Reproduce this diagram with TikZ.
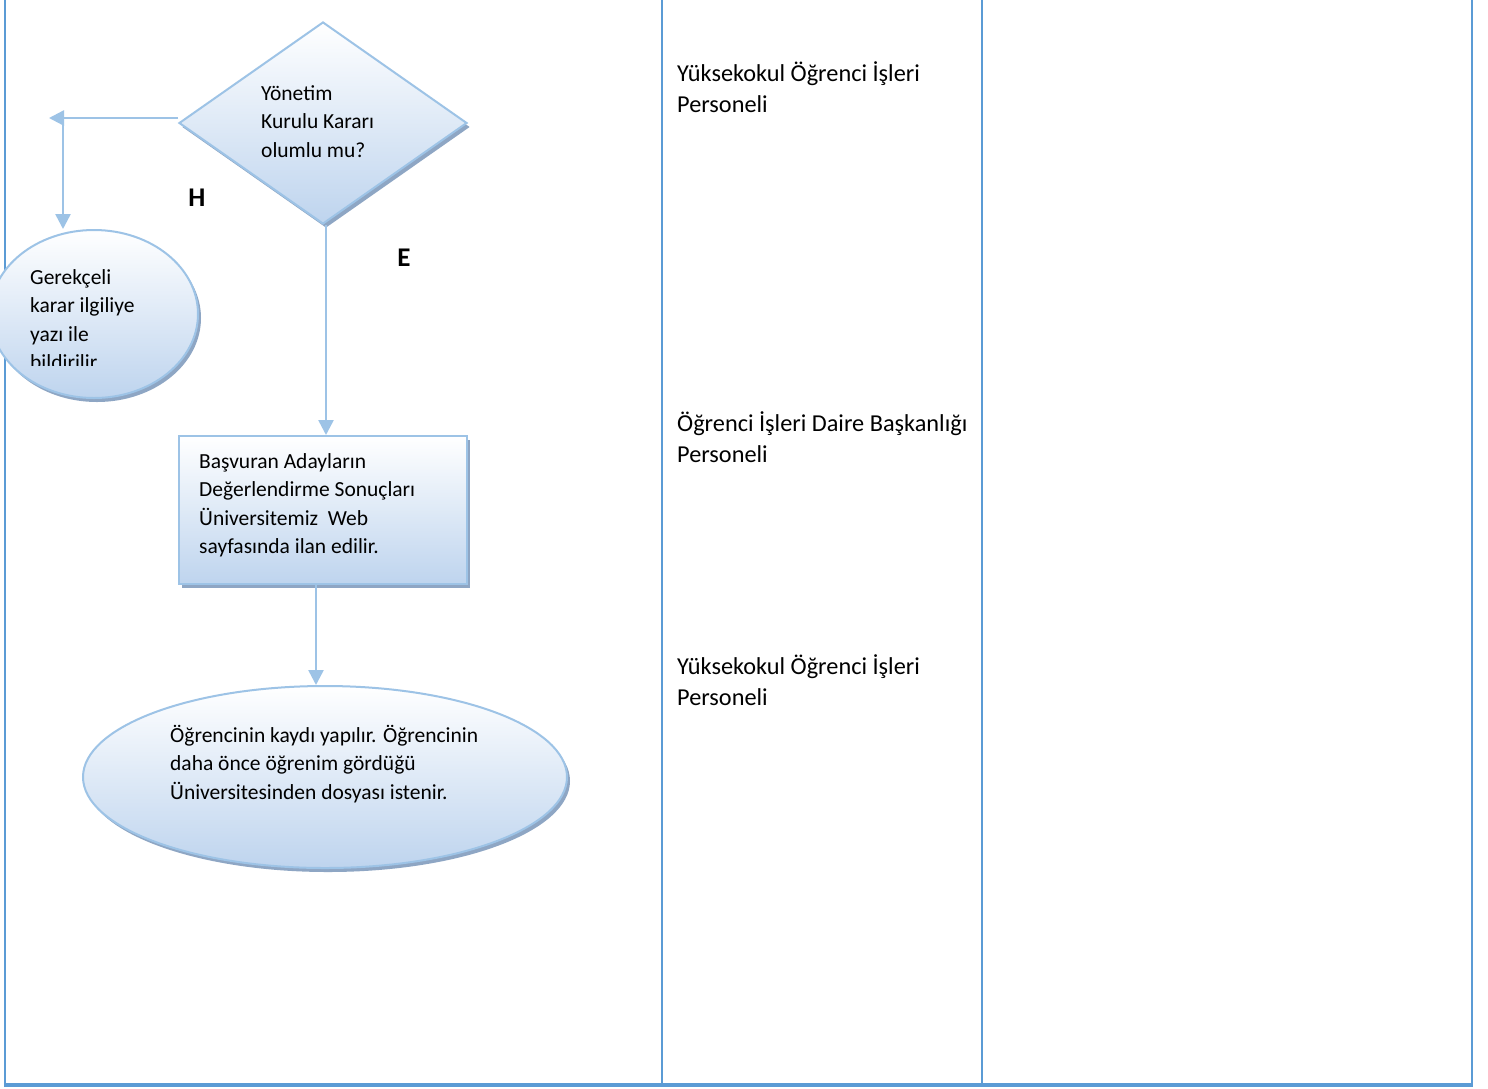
\documentclass[tikz,border=0pt]{standalone}
\usepackage{fontspec}
\setmainfont{Carlito}
\usetikzlibrary{shapes.geometric,shadows,arrows.meta}
\definecolor{tbl}{RGB}{91,155,213}
\definecolor{edge}{RGB}{157,195,230}
\definecolor{fillb}{RGB}{190,212,238}
\definecolor{shad}{RGB}{142,166,196}
\tikzset{
  shapebox/.style={draw=edge, line width=2pt, top color=white, bottom color=fillb,
    drop shadow={shadow xshift=3pt, shadow yshift=-4pt, fill=shad, opacity=1}},
  conn/.style={draw=edge, line width=2.5pt},
  tip/.style={-{Triangle[length=15pt,width=15pt]}},
  txt/.style={anchor=north west, inner sep=0pt, align=left, font=\fontsize{21.5}{28.5}\selectfont},
  rtxt/.style={anchor=north west, inner sep=0pt, align=left, font=\fontsize{24.3}{31.5}\selectfont},
  lbl/.style={inner sep=0pt, font=\fontsize{27}{30}\selectfont\bfseries},
  tline/.style={draw=tbl, line width=2.5pt}
}
\begin{document}
\begin{tikzpicture}[x=1pt,y=-1pt]
\useasboundingbox (0,0) rectangle (1488,1088);
\fill[white] (0,0) rectangle (1488,1088);
% table
\draw[tline] (5,0) -- (5,1085);
\draw[tline] (662,0) -- (662,1085);
\draw[tline] (982,0) -- (982,1085);
\draw[tline] (1472,0) -- (1472,1085);
\draw[draw=tbl, line width=4pt] (3.75,1085) -- (1473.25,1085);
% shapes
\node[shapebox, diamond, minimum width=288pt, minimum height=202pt, inner sep=0pt] (dec) at (323,123) {};
\node[shapebox, ellipse, minimum width=208pt, minimum height=168pt, inner sep=0pt] (rej) at (94,314) {};
\node[shapebox, rectangle, minimum width=288pt, minimum height=148pt, inner sep=0pt] (box) at (323,510) {};
\node[shapebox, ellipse, minimum width=484pt, minimum height=182pt, inner sep=0pt] (reg) at (325,777) {};
% texts
\node[txt] (tdec) at (261,80) {\strut Yönetim\\Kurulu Kararı\\olumlu mu?};
\begin{scope}
\clip (0,240) rectangle (200,365);
\node[txt] (trej) at (30,264) {\strut Gerekçeli\\karar ilgiliye\\yazı ile\\bildirilir.};
\end{scope}
\node[txt] (tbox) at (199,448) {\strut Başvuran Adayların\\Değerlendirme Sonuçları\\Üniversitemiz\ \ Web\\sayfasında ilan edilir.};
\node[txt] (treg) at (170,722) {\strut Öğrencinin kaydı yapılır. Öğrencinin\\daha önce öğrenim gördüğü\\Üniversitesinden dosyası istenir.};
\node[rtxt] (r1) at (677,59) {\strut Yüksekokul Öğrenci İşleri\\Personeli};
\node[rtxt] (r2) at (677,409) {\strut Öğrenci İşleri Daire Başkanlığı\\Personeli};
\node[rtxt] (r3) at (677,652) {\strut Yüksekokul Öğrenci İşleri\\Personeli};
\node[lbl] (H) at (197,198) {H};
\node[lbl] (E) at (404,258) {E};
% connectors
\coordinate (hl) at (49,118);
\coordinate (hv) at (63,118);
\draw[conn, tip] (dec.west |- hl) -- (hl);
\draw[conn, tip] (hv) -- (hv |- rej.north);
\draw[conn, tip] ([xshift=3pt]dec.south) -- ([xshift=3pt]dec.south |- box.north);
\draw[conn, tip] ([xshift=-7pt]box.south) -- ([xshift=-7pt]box.south |- reg.north);
\end{tikzpicture}
\end{document}
